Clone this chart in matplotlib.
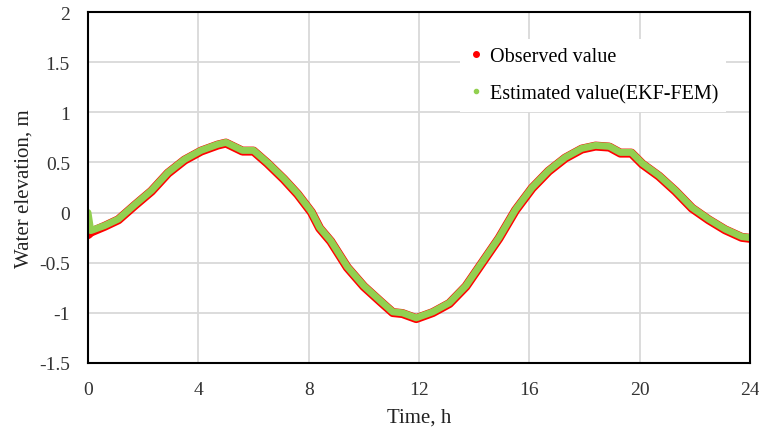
import matplotlib
matplotlib.use("Agg")
import matplotlib.pyplot as plt
from matplotlib.lines import Line2D

time_h = [0, 0.1, 0.6, 1.1, 1.7, 2.3, 2.9, 3.5, 4.1, 4.7, 5.0, 5.3, 5.6, 6.0, 6.5,
          7.1, 7.6, 8.1, 8.4, 8.8, 9.4, 10.0, 10.6, 11.05, 11.4, 11.9, 12.5, 13.1,
          13.7, 14.3, 14.9, 15.5, 16.1, 16.7, 17.3, 17.9, 18.4, 18.9, 19.3, 19.7,
          20.1, 20.7, 21.3, 21.9, 22.5, 23.1, 23.7, 24.0]

estimated = [0.0, -0.18, -0.13, -0.065, 0.08, 0.22, 0.40, 0.53, 0.62, 0.68, 0.70,
             0.66, 0.62, 0.62, 0.50, 0.34, 0.19, 0.01, -0.15, -0.28, -0.54, -0.73,
             -0.88, -0.99, -1.0, -1.05, -0.99, -0.9, -0.73, -0.49, -0.25, 0.03,
             0.25, 0.42, 0.55, 0.64, 0.67, 0.66, 0.60, 0.60, 0.49, 0.37, 0.22, 0.05,
             -0.065, -0.165, -0.24, -0.25]

observed = [-0.22, -0.195, -0.137, -0.072, 0.073, 0.213, 0.393, 0.523, 0.613, 0.673,
            0.693, 0.653, 0.613, 0.613, 0.493, 0.333, 0.183, 0.003, -0.157, -0.287,
            -0.547, -0.737, -0.887, -0.997, -1.007, -1.057, -0.997, -0.907, -0.737,
            -0.497, -0.257, 0.023, 0.243, 0.413, 0.543, 0.633, 0.663, 0.653, 0.593,
            0.593, 0.483, 0.363, 0.213, 0.043, -0.072, -0.172, -0.247, -0.257]

x_ticks = [0, 4, 8, 12, 16, 20, 24]
y_ticks = [-1.5, -1, -0.5, 0, 0.5, 1, 1.5, 2]
y_tick_labels = ["-1.5", "-1", "-0.5", "0", "0.5", "1", "1.5", "2"]

plt.rcParams['font.family'] = ['Liberation Serif', 'DejaVu Serif']

fig = plt.figure(figsize=(7.59, 4.31), dpi=100)
ax = fig.add_axes([88/759, 1 - 364/431, 662/759, 351/431])

ax.plot(time_h, observed, color='#ff0000', lw=6.5, solid_capstyle='round',
        solid_joinstyle='round', zorder=3)
ax.plot(time_h, estimated, color='#92d050', lw=5, solid_capstyle='round',
        solid_joinstyle='round', zorder=4)

ax.set_xlim(0, 24)
ax.set_ylim(-1.5, 2)
ax.set_xticks(x_ticks)
ax.set_yticks(y_ticks)
ax.set_yticklabels(y_tick_labels)
ax.tick_params(length=0, labelsize=14, pad=13, colors='#333333')
ax.grid(True, color='#d9d9d9', lw=1.3)
ax.set_axisbelow(True)
for s in ax.spines.values():
    s.set_color('black')
    s.set_linewidth(1.5)
    s.set_zorder(5)

ax.set_xlabel("Time, h", fontsize=15, labelpad=7, color='#222222')
ax.set_ylabel("Water elevation, m", fontsize=15, labelpad=4, color='#222222')

handles = [Line2D([], [], ls='none', marker='o', ms=4, color='#ff0000'),
           Line2D([], [], ls='none', marker='o', ms=3, color='#92d050')]
leg = ax.legend(handles, ["Observed value", "Estimated value(EKF-FEM)"],
                loc='upper left', bbox_to_anchor=(0.546, 0.952), fontsize=14.5,
                frameon=True, fancybox=False, edgecolor='none', facecolor='white',
                framealpha=1, handlelength=0.8, handletextpad=0.3,
                labelspacing=0.9, borderpad=0.4)
leg.set_zorder(6)

fig.savefig("out.png", dpi=100)
